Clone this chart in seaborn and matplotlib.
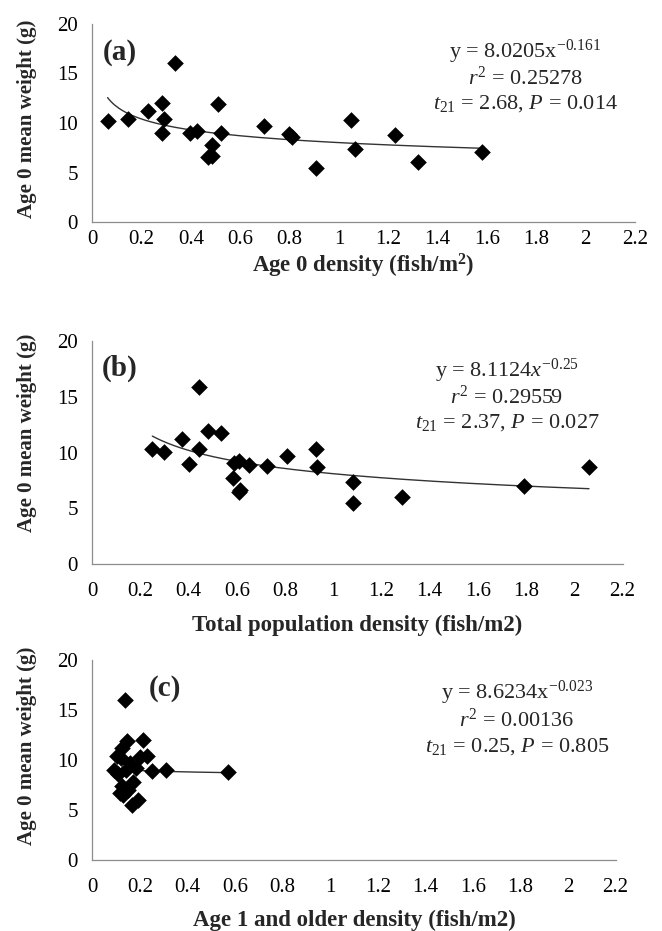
import numpy as np
import pandas as pd
import seaborn as sns
import matplotlib
matplotlib.use("Agg")
import matplotlib.pyplot as plt

# (a) age 0 density vs age 0 mean weight
density_a = [0.062, 0.146, 0.224, 0.284, 0.292, 0.281, 0.335, 0.396, 0.423, 0.484, 0.470, 0.484,
             0.511, 0.522, 0.697, 0.797, 0.808, 0.907, 1.047, 1.065, 1.227, 1.322, 1.578]
weight_a = [10.20, 10.37, 11.24, 12.05, 10.40, 9.03, 16.0, 8.96, 9.19, 7.79, 6.54, 6.68,
            11.88, 9.03, 9.73, 8.89, 8.62, 5.50, 10.30, 7.38, 8.79, 6.04, 7.05]

# (b) total population density
density_b = [0.249, 0.299, 0.371, 0.401, 0.444, 0.444, 0.481, 0.534, 0.589, 0.609, 0.585, 0.609,
             0.612, 0.650, 0.723, 0.809, 0.927, 0.931, 1.080, 1.080, 1.284, 1.793, 2.061]
weight_b = [10.33, 10.09, 11.22, 8.99, 15.91, 10.33, 11.94, 11.79, 9.04, 9.25, 7.70, 6.51,
            6.68, 8.90, 8.81, 9.70, 10.33, 8.69, 7.34, 5.46, 6.00, 7.01, 8.74]

# (c) age 1 and older density
density_c = [0.137, 0.215, 0.144, 0.123, 0.229, 0.102, 0.200, 0.120, 0.160, 0.185, 0.093, 0.309,
             0.140, 0.250, 0.572, 0.110, 0.172, 0.123, 0.150, 0.116, 0.130, 0.194, 0.165]
weight_c = [16.0, 12.05, 11.88, 11.24, 10.40, 10.37, 10.30, 10.20, 9.73, 9.19, 9.03, 9.03,
            8.96, 8.89, 8.79, 8.62, 7.79, 7.38, 7.05, 6.68, 6.54, 6.04, 5.50]

# power fits y = a * x^b shown on the chart
fit_a = (8.0205, -0.161)
fit_b = (8.1124, -0.25)
fit_c = (8.6234, -0.023)

x_ticks = [0, 0.2, 0.4, 0.6, 0.8, 1.0, 1.2, 1.4, 1.6, 1.8, 2.0, 2.2]
x_ticklabels = ['0', '0.2', '0.4', '0.6', '0.8', '1', '1.2', '1.4', '1.6', '1.8', '2', '2.2']
y_ticks = [0, 5, 10, 15, 20]

sns.set_style("white")
plt.rcParams['font.family'] = ['Liberation Serif', 'DejaVu Serif']
plt.rcParams['mathtext.fontset'] = 'custom'
plt.rcParams['mathtext.rm'] = 'Liberation Serif'
plt.rcParams['mathtext.it'] = 'Liberation Serif:italic'
plt.rcParams['mathtext.bf'] = 'Liberation Serif:bold'

W, H = 662, 931
fig = plt.figure(figsize=(W / 100, H / 100), dpi=100)
fig.patch.set_facecolor('white')

panels = [
    dict(x=density_a, y=weight_a, fit=fit_a, box=(92.3, 23.6, 635, 222.3),
         xlabel='Age 0 density (fish/m$^{\\mathbf{2}}$)', xlab_y=266, xpad=2.0, ylab_y=0.52,
         tag='(a)', tag_xy=(120, 53),
         eq=['y = 8.0205x$^{-0.161}$', '$r^2$ = 0.25278', '$t_{21}$ = 2.68, $P$ = 0.014'],
         eq_x=525, eq_y=[52, 78, 104]),
    dict(x=density_b, y=weight_b, fit=fit_b, box=(92.3, 341, 622.5, 564.3),
         xlabel='Total population density (fish/m2)', xlab_y=625, xpad=9.0, ylab_y=0.59,
         tag='(b)', tag_xy=(120, 368),
         eq=['y = 8.1124$x^{-0.25}$', '$r^2$ = 0.29559', '$t_{21}$ = 2.37, $P$ = 0.027'],
         eq_x=507, eq_y=[371, 397, 423]),
    dict(x=density_c, y=weight_c, fit=fit_c, box=(92.3, 660, 615.5, 860),
         xlabel='Age 1 and older density (fish/m2)', xlab_y=920, xpad=9.0, ylab_y=0.57,
         tag='(c)', tag_xy=(165, 688),
         eq=['y = 8.6234x$^{-0.023}$', '$r^2$ = 0.00136', '$t_{21}$ = 0.25, $P$ = 0.805'],
         eq_x=517, eq_y=[693, 720, 747]),
]

grey = '#8c8c8c'
for p in panels:
    l, t, r, b = p['box']
    ax = fig.add_axes([l / W, 1 - b / H, (r - l) / W, (b - t) / H])
    df = pd.DataFrame({'density': p['x'], 'weight': p['y']})

    coef, expo = p['fit']
    xs = np.linspace(min(p['x']), max(p['x']), 200)
    sns.lineplot(x=xs, y=coef * xs ** expo, color='#333333', linewidth=1.0, ax=ax)
    sns.scatterplot(data=df, x='density', y='weight', marker='D', s=72, color='black',
                    linewidth=0, ax=ax, zorder=3, clip_on=False)

    ax.set_xlim(0, 2.2)
    ax.set_ylim(0, 20)
    ax.set_xticks(x_ticks)
    ax.set_xticklabels(x_ticklabels)
    ax.set_yticks(y_ticks)
    for side in ['top', 'right']:
        ax.spines[side].set_visible(False)
    for side in ['left', 'bottom']:
        ax.spines[side].set_color(grey)
        ax.spines[side].set_linewidth(0.9)
    ax.tick_params(axis='both', direction='out', color=grey, width=0.9, labelsize=15,
                   labelcolor='black')
    ax.tick_params(axis='x', length=3.6, pad=p['xpad'])
    ax.tick_params(axis='y', length=4.3, pad=6)

    ax.set_xlabel(p['xlabel'], fontsize=16.5, fontweight='bold')
    ax.xaxis.label.set_va('center')
    ax.xaxis.set_label_coords(0.5, -(p['xlab_y'] - b) / (b - t))
    ax.set_ylabel('Age 0 mean weight (g)', fontsize=15, fontweight='bold')
    ax.yaxis.label.set_va('center')
    ax.yaxis.set_label_coords(-(l - 27) / (r - l), p['ylab_y'])

    tx, ty = p['tag_xy']
    fig.text(tx / W, 1 - ty / H, p['tag'], fontsize=21, fontweight='bold',
             ha='center', va='center')
    for line, ly in zip(p['eq'], p['eq_y']):
        fig.text(p['eq_x'] / W, 1 - ly / H, line, fontsize=16, ha='center', va='center')

fig.savefig('out.png', dpi=100, facecolor='white')
